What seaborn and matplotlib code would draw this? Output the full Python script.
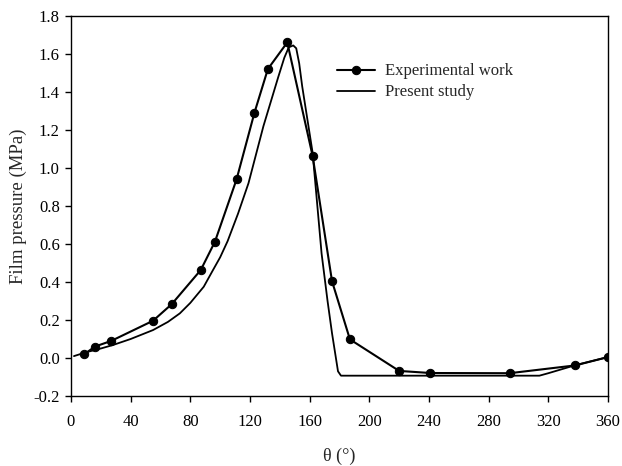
import matplotlib
matplotlib.use("Agg")
import matplotlib.pyplot as plt
import seaborn as sns
import pandas as pd

# Measured film pressure around the bearing
theta_exp = [9, 16, 27, 55, 67.5, 87, 96.5, 111, 123, 132, 145, 162, 175, 187, 220, 241, 294, 338, 360]
p_exp = [0.02, 0.06, 0.09, 0.196, 0.283, 0.463, 0.612, 0.94, 1.291, 1.521, 1.661, 1.063, 0.404, 0.098,
         -0.068, -0.079, -0.08, -0.039, 0.005]

# Computed film pressure
theta_sim = [2, 10, 20, 28, 40, 55, 65, 73, 80, 89, 95, 100, 105, 112, 119, 129, 139, 143, 146, 149,
             151, 153, 155, 162, 168, 172, 175, 179, 181, 200, 240, 280, 314, 320, 338, 360]
p_sim = [0.01, 0.03, 0.05, 0.068, 0.10, 0.147, 0.19, 0.235, 0.29, 0.375, 0.46, 0.53, 0.615, 0.76, 0.92,
         1.22, 1.48, 1.58, 1.635, 1.645, 1.63, 1.55, 1.43, 1.08, 0.55, 0.30, 0.13, -0.07, -0.093,
         -0.093, -0.093, -0.093, -0.093, -0.08, -0.038, 0.005]

x_ticks = [0, 40, 80, 120, 160, 200, 240, 280, 320, 360]
y_ticks = [-0.2, 0.0, 0.2, 0.4, 0.6, 0.8, 1.0, 1.2, 1.4, 1.6, 1.8]

sns.set_theme(style="ticks")
plt.rcParams["font.family"] = ["Liberation Serif", "DejaVu Serif"]

df_exp = pd.DataFrame({"theta": theta_exp, "p": p_exp})
df_sim = pd.DataFrame({"theta": theta_sim, "p": p_sim})

fig = plt.figure(figsize=(6.22, 4.66), dpi=100)
ax = fig.add_axes([0.1141, 0.1502, 0.8634, 0.8155])

sns.lineplot(data=df_exp, x="theta", y="p", ax=ax, color="black", linewidth=1.5,
             marker="o", markersize=6, markeredgecolor="black", label="Experimental work",
             sort=False, estimator=None)
sns.lineplot(data=df_sim, x="theta", y="p", ax=ax, color="black", linewidth=1.3,
             label="Present study", sort=False, estimator=None)

ax.set_xlim(0, 360)
ax.set_ylim(-0.2, 1.8)
ax.set_xticks(x_ticks)
ax.set_yticks(y_ticks)
ax.set_xticklabels([str(t) for t in x_ticks])
ax.set_yticklabels([f"{t:.1f}" for t in y_ticks])
ax.tick_params(axis="both", direction="out", length=4, width=1, labelsize=12, colors="black")
ax.tick_params(axis="x", pad=9)
ax.tick_params(axis="y", pad=4)
ax.tick_params(top=False, right=False)
for s in ax.spines.values():
    s.set_linewidth(1)
    s.set_color("black")

ax.set_xlabel("θ (°)", fontsize=13, labelpad=13)
ax.set_ylabel("Film pressure (MPa)", fontsize=13.5, labelpad=5)

leg = ax.legend(loc="upper left", bbox_to_anchor=(0.48, 0.897), frameon=False, fontsize=12,
                handlelength=2.3, handletextpad=0.55, labelspacing=0.3, borderpad=0)

fig.savefig("out.png", dpi=100)
